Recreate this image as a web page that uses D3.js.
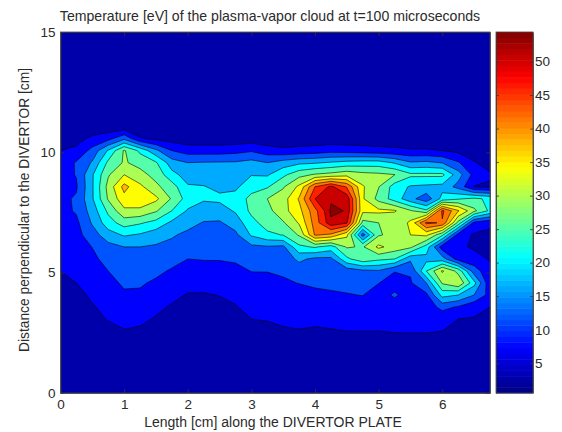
<!DOCTYPE html>
<html><head><meta charset="utf-8">
<script src="https://cdn.jsdelivr.net/npm/d3@7"></script>
<style>html,body{margin:0;background:#fff}svg{display:block}text{font-family:"Liberation Sans",Arial,sans-serif;fill:#2b2b2b}</style>
</head><body><div id="c"></div>
<script>
const titleText = "Temperature [eV] of the plasma-vapor cloud at t=100 microseconds";
const xLabel = "Length [cm] along the DIVERTOR PLATE";
const yLabel = "Distance perpendicular to the DIVERTOR [cm]";
const xTicks = [0,1,2,3,4,5,6];
const yTicks = [0,5,10,15];
const barTicks = [5,10,15,20,25,30,35,40,45,50];
const levels = [5,9.5,14,18.5,23,27.5,32,36.5,41,45.5,50,53.5];
const bandValues = [2.8,7.25,11.75,16.25,20.75,25.25,29.75,34.25,38,41.5,46,50.5,54];
const jetStops = [0,.125,.375,.625,.875,1];
const jetColors = ["#000080","#0000ff","#00ffff","#ffff00","#ff0000","#800000"];
const xStep = 0.25, yStep = 0.5, gridY0 = 0.07;
const xCount = 28;
// temperature rows, from y=0 upward, 28 columns each
const row0 = Array(xCount).fill(1);
const row1 = Array(xCount).fill(1);
const row2 = Array(xCount).fill(1.2);
const row3 = [1.2,1.5,2,2,2,2,2,1.5,1.5,1.5,1.5,1.5,1.5,2,2,2,2,2,2,2,2,2.5,2.5,2,2,2.5,2,2];
const row4 = [1.5,1.8,2.5,3,3,3,2.5,2,1.8,1.8,2,2,2.2,3,3,3,2.8,3,3,3,3,3.5,3.5,3,3,3,2.5,2.5];
const row5 = [1.8,2,3,4,4.8,4.5,3.5,2.8,2.5,2.6,2.7,3,3.3,4,4.7,4.8,4.6,4.7,5,5,5,5.2,5.3,5.3,5,4,3.5,3];
const row6 = [2,2.5,4,5.2,6,5.7,4.7,3.5,3,3.2,3.4,3.7,5,5.2,5.5,6,5.7,6.2,6.5,6.5,5.7,5.8,5.8,5.8,6,5,4.8,4.2];
const row7 = [2.5,3,4.7,6,7.5,7.3,5.8,4.6,3.5,3.7,4,4.8,6,6,6.5,7,7,7.5,8,8,6.5,7,6.8,6.8,11,9,6,5];
const row8 = [3,3.8,5.7,7.5,9,8.8,7,6,4.7,4.7,5.1,5.7,7,7,7.5,8,8.5,9,9.3,9.6,7.5,10.2,7.5,8.5,20,18.5,14,7.8];
const row9 = [4,5,6.8,8.5,10,10,8.8,7.5,6.5,6.3,6.6,7,8.2,8.5,9,9.6,10.2,10.3,10.5,10.7,9.6,7.5,9,14,28,31.5,20,6];
const row10 = [5,5.8,7.8,9.5,11.5,12,10.5,9,8,8,8.2,8.5,9.6,9.6,10,11.5,10.5,10.8,11.5,13,13.5,9.7,10,23,32.6,26,11.5,6.5];
const row11 = [5.8,6.5,8.5,11,13,13,12,11,9.5,9.7,9.7,10,11,11.3,11.5,15,13,13,22,26,24,23,15,17,16,7.5,7,4.5];
const row12 = [6.5,7.5,9.6,12.5,14,14,13.5,12.8,11.5,11,11,11.5,13,13.5,13,22,23.5,21,28,27,33,30,28.5,21,7,6,4.3,3.8];
const row13 = [7,8,12,16.5,19,18,16,14.5,13,12.5,12.3,13,19,22,23.2,28,41.5,40,33,12,27,29,32,33,24,7.5,4.5,4];
const row14 = [7.5,8.5,14.5,21,25,23.5,21.5,17.5,15.5,13.7,13.5,16,21.5,25,27,32.5,43,52.8,50.5,26,27.5,28,33,46.5,45,26,8,6];
const row15 = [8,10,16,24,31,31,28,23,18,16.5,16.5,19,24,26,30.5,35,44,54.2,53.3,33,33,32.5,28,24,46.5,37,28.5,22];
const row16 = [8.5,10,18,28,35,35,33,27,21,19,19.4,20,24.5,27.5,30,37,50,53,53,32.5,26,21,15.5,11,20,22.5,24,22];
const row17 = [8.5,9,18,29,38,33,28.5,25,19,18.7,17.5,17.7,21,22.5,27,33,45.5,51,45,32.5,27.7,21,18,17.5,17,12.5,4.8,4.5];
const row18 = [8,9.7,18,27,32,29,26,20,16.5,16.5,15.8,16,18.3,18,22,26,28,29,30.5,29,28.5,27.6,24,24,24,16,8,5.5];
const row19 = [6.5,10,14.5,24,28,26,23.5,16,14,14.3,14.4,14.5,15.5,14,16,17.5,18,19,20,20.5,20.5,18,14.5,15,13.8,10,5.3,3.5];
const row20 = [5,6,11,19,28,22,15,9.5,7.5,7.5,7.5,8,9,7,6,6.5,7,8,7.5,7,6.5,6,5.5,5.5,5,4,3,2.5];
const row21 = [3,3.5,6,8,13,5.5,4,3,2.2,2.2,2.2,2.2,2.5,2.2,2.2,2.2,2.2,2.2,2.2,2.2,2.2,2.2,2.2,2.2,2.2,2.2,2,1.5];
const row22 = [1.5,1.5,2,2,2,1.5,1.5,1.5,1.5,1.5,1.5,1.5,1.5,1.5,1.5,1.5,1.5,1.5,1.5,1.5,1.5,1.5,1.5,1.5,1.5,1.5,1.5,1.2];
const upperRow = Array(xCount).fill(1);
const gridRows = [row0,row1,row2,row3,row4,row5,row6,row7,row8,row9,row10,row11,row12,row13,row14,row15,row16,row17,row18,row19,row20,row21,row22,upperRow,upperRow,upperRow,upperRow,upperRow,upperRow,upperRow,upperRow];

const W=562,H=432,L=60.5,R=490,T=32,B=393,BL=496,BR=533;
const svg=d3.select("#c").append("svg").attr("width",W).attr("height",H);
const x=d3.scaleLinear().domain([0,(xCount-1)*xStep]).range([L,R]);
const y=d3.scaleLinear().domain([0,15]).range([B,T]);
const jet=d3.scaleLinear().domain(jetStops).range(jetColors).interpolate(d3.interpolateRgb);
const vMin=0.56,vMax=54.4;
const color=v=>jet((v-vMin)/(vMax-vMin));
const yBar=d3.scaleLinear().domain([vMin,vMax]).range([B,T]);

svg.append("clipPath").attr("id","clip").append("rect").attr("x",L).attr("y",T).attr("width",R-L).attr("height",B-T);
const plot=svg.append("g").attr("clip-path","url(#clip)");
const values=gridRows.flat();
const contours=d3.contours().size([xCount,gridRows.length]).thresholds(levels)(values);
const path=d3.geoPath(d3.geoTransform({point(a,b){this.stream.point(x((a-.5)*xStep),y((b-.5)*yStep+gridY0));}}));
plot.append("rect").attr("x",L).attr("y",T).attr("width",R-L).attr("height",B-T).attr("fill",color(bandValues[0]));
plot.selectAll("path").data(contours).join("path").attr("d",path)
  .attr("fill",(d,i)=>color(bandValues[i+1]))
  .attr("stroke","#000").attr("stroke-opacity",.72).attr("stroke-width",.8).attr("stroke-linejoin","round");

const axisStyle=g=>{g.selectAll("path,line").attr("stroke","#333").attr("stroke-width",.8);g.selectAll("text").attr("font-size",13.5).attr("fill","#333").attr("font-family",'"Liberation Sans",Arial,sans-serif');};
const fmt=d3.format("d");
svg.append("g").attr("transform",`translate(0,${B})`).call(d3.axisBottom(x).tickValues(xTicks).tickFormat(fmt).tickSizeInner(-4).tickSizeOuter(0).tickPadding(6)).call(axisStyle);
svg.append("g").attr("transform",`translate(0,${T})`).call(d3.axisTop(x).tickValues(xTicks).tickFormat("").tickSizeInner(-4).tickSizeOuter(0)).call(axisStyle);
svg.append("g").attr("transform",`translate(${L},0)`).call(d3.axisLeft(y).tickValues(yTicks).tickFormat(fmt).tickSizeInner(-4).tickSizeOuter(0).tickPadding(5)).call(axisStyle);
svg.append("g").attr("transform",`translate(${R},0)`).call(d3.axisRight(y).tickValues(yTicks).tickFormat("").tickSizeInner(-4).tickSizeOuter(0)).call(axisStyle);
svg.append("rect").attr("x",L).attr("y",T).attr("width",R-L).attr("height",B-T).attr("fill","none").attr("stroke","#444").attr("stroke-width",.8);

const nBar=64;
const barSteps=d3.range(nBar);
svg.append("g").selectAll("rect").data(barSteps).join("rect")
 .attr("x",BL).attr("width",BR-BL)
 .attr("y",i=>yBar(vMin+(i+1)*(vMax-vMin)/nBar))
 .attr("height",(B-T)/nBar+.5)
 .attr("fill",i=>jet((i+.5)/nBar));
svg.append("g").attr("transform",`translate(${BR},0)`).call(d3.axisRight(yBar).tickValues(barTicks).tickFormat(fmt).tickSizeInner(-3).tickSizeOuter(0).tickPadding(2)).call(axisStyle);
svg.append("g").attr("transform",`translate(${BL},0)`).call(d3.axisLeft(yBar).tickValues(barTicks).tickFormat("").tickSizeInner(-3).tickSizeOuter(0)).call(axisStyle);
svg.append("rect").attr("x",BL).attr("y",T).attr("width",BR-BL).attr("height",B-T).attr("fill","none").attr("stroke","#444").attr("stroke-width",.8);

svg.append("text").attr("x",270).attr("y",20.5).attr("text-anchor","middle").attr("font-size",14.1).text(titleText);
svg.append("text").attr("x",273).attr("y",427).attr("text-anchor","middle").attr("font-size",14).text(xLabel);
svg.append("text").attr("transform","translate(29,210) rotate(-90)").attr("text-anchor","middle").attr("font-size",13.8).text(yLabel);
</script></body></html>
